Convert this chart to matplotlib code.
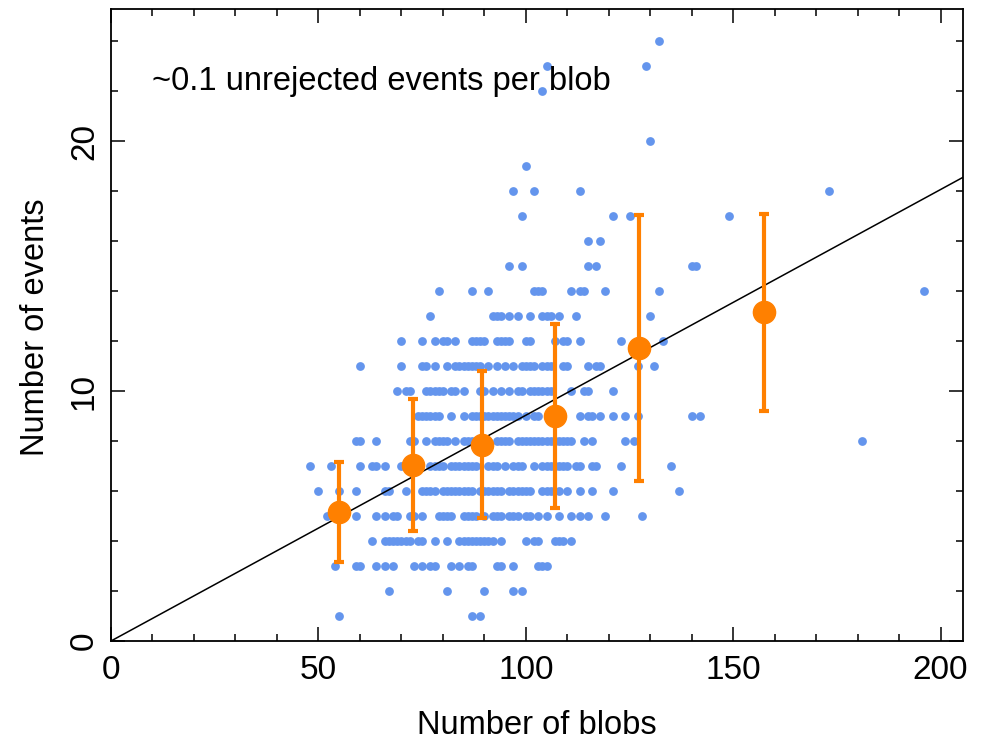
import matplotlib
matplotlib.use("Agg")
import matplotlib.pyplot as plt
from matplotlib.ticker import MultipleLocator

plt.rcParams['font.family'] = ['Liberation Sans', 'DejaVu Sans']

# number of blobs for each event count
blobs_at_1 = [55, 87, 89]
blobs_at_2 = [67, 81, 90, 97, 99]
blobs_at_3 = [54, 59, 60, 64, 66, 68, 73, 75, 77, 78, 82, 84, 86, 87, 93, 94, 97, 103, 104, 105]
blobs_at_4 = [63, 66, 67, 68, 69, 70, 71, 72, 74, 75, 78, 81, 84, 85, 86, 87, 88, 89, 90, 91,
              92, 94, 100, 102, 103, 107, 108, 109, 111]
blobs_at_5 = [52, 55, 59, 64, 66, 68, 69, 72, 73, 75, 79, 80, 81, 82, 85, 86, 87, 88, 90, 92,
              93, 94, 96, 97, 98, 100, 101, 103, 105, 108, 111, 113, 115, 119, 128]
blobs_at_6 = [50, 55, 59, 66, 67, 71, 75, 76, 77, 78, 80, 81, 82, 83, 84, 85, 86, 87, 89, 90,
              91, 92, 93, 94, 96, 97, 98, 99, 100, 101, 104, 105, 106, 108, 110, 113, 116, 121, 137]
blobs_at_7 = [48, 53, 60, 63, 64, 66, 70, 72, 77, 78, 79, 80, 82, 83, 84, 85, 86, 87, 88, 91,
              92, 93, 95, 97, 98, 99, 102, 104, 105, 106, 107, 108, 109, 110, 112, 113, 116, 117,
              123, 135]
blobs_at_8 = [59, 60, 64, 72, 73, 76, 78, 79, 80, 81, 83, 85, 86, 87, 89, 91, 93, 94, 95, 96,
              98, 99, 100, 101, 102, 103, 104, 105, 106, 107, 108, 109, 110, 111, 114, 116, 124,
              126, 181]
blobs_at_9 = [74, 75, 76, 77, 78, 79, 82, 85, 87, 88, 89, 90, 91, 92, 93, 94, 95, 96, 97, 98,
              100, 102, 103, 106, 108, 113, 115, 116, 118, 121, 124, 127, 140, 142]
blobs_at_10 = [69, 71, 72, 76, 77, 78, 79, 80, 82, 83, 85, 89, 90, 92, 94, 96, 98, 99, 101, 102,
               103, 104, 105, 106, 111, 114, 115, 121]
blobs_at_11 = [60, 70, 75, 76, 78, 81, 83, 84, 85, 86, 87, 88, 89, 91, 93, 95, 97, 99, 100, 101,
               102, 104, 105, 106, 109, 110, 115, 117, 118, 127, 131]
blobs_at_12 = [70, 75, 78, 80, 81, 83, 87, 88, 89, 90, 93, 94, 95, 96, 100, 101, 107, 109, 110,
               113, 123, 133]
blobs_at_13 = [77, 92, 93, 94, 96, 98, 101, 104, 105, 106, 108, 112, 130]
blobs_at_14 = [79, 87, 91, 102, 103, 104, 111, 113, 114, 119, 132, 196]
blobs_at_15 = [96, 99, 115, 117, 140, 141]
blobs_at_16 = [115, 118]
blobs_at_17 = [99, 121, 125, 149]
blobs_at_18 = [97, 102, 113, 173]
blobs_at_19 = [100]
blobs_at_20 = [130]
blobs_at_22 = [104]
blobs_at_23 = [105, 129]
blobs_at_24 = [132]

# binned means with errors
mean_blobs = [55.0, 72.7, 89.4, 107.1, 127.2, 157.5]
mean_events = [5.17, 7.05, 7.86, 9.00, 11.73, 13.15]
mean_err = [2.0, 2.65, 2.95, 3.67, 5.33, 3.93]

fit_slope = 0.0903
note = "~0.1 unrejected events per blob"

rows = {1: blobs_at_1, 2: blobs_at_2, 3: blobs_at_3, 4: blobs_at_4, 5: blobs_at_5,
        6: blobs_at_6, 7: blobs_at_7, 8: blobs_at_8, 9: blobs_at_9, 10: blobs_at_10,
        11: blobs_at_11, 12: blobs_at_12, 13: blobs_at_13, 14: blobs_at_14, 15: blobs_at_15,
        16: blobs_at_16, 17: blobs_at_17, 18: blobs_at_18, 19: blobs_at_19, 20: blobs_at_20,
        22: blobs_at_22, 23: blobs_at_23, 24: blobs_at_24}
xs, ys = [], []
for ev, blist in rows.items():
    xs += blist
    ys += [ev] * len(blist)

fig = plt.figure(figsize=(9.81, 7.41), dpi=100)
ax = fig.add_axes([111 / 981, 100 / 741, 852 / 981, 632 / 741])

ax.scatter(xs, ys, s=40, color='#6495ED', linewidths=0, zorder=2)
ax.axline((0, 0), slope=fit_slope, color='black', lw=1.1, zorder=3)
ax.errorbar(mean_blobs, mean_events, yerr=mean_err, fmt='o', color='#FF8000',
            markersize=16, elinewidth=3, capsize=3.5, capthick=3, zorder=4)

ax.set_xlim(0, 205.4)
ax.set_ylim(0, 25.28)

ax.xaxis.set_major_locator(MultipleLocator(50))
ax.xaxis.set_minor_locator(MultipleLocator(10))
ax.yaxis.set_major_locator(MultipleLocator(10))
ax.yaxis.set_minor_locator(MultipleLocator(2))
ax.tick_params(which='both', direction='in', top=True, right=True, width=1.1)
ax.tick_params(which='major', length=10, labelsize=24)
ax.tick_params(axis='x', which='major', pad=10)
ax.tick_params(axis='y', which='major', pad=8)
ax.tick_params(which='minor', length=5)
for lab in ax.get_yticklabels():
    lab.set_rotation(90)
    lab.set_va('center')
for sp in ax.spines.values():
    sp.set_linewidth(1.3)

ax.set_xlabel("Number of blobs", fontsize=23.5, va='center')
ax.xaxis.set_label_coords(0.5, -0.134)
ax.set_ylabel("Number of events", fontsize=23.5, va='center')
ax.yaxis.set_label_coords(-0.089, 0.497)
ax.text(0.048, 0.872, note, transform=ax.transAxes, fontsize=23.5, va='baseline')

fig.savefig("out.png", dpi=100)
